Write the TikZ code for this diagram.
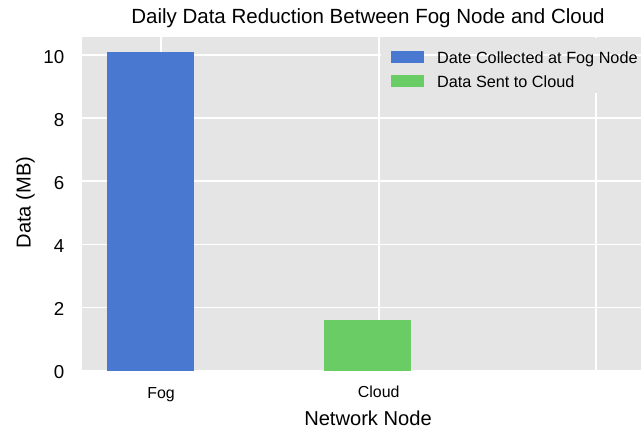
\documentclass[tikz,border=0pt]{standalone}
\usepackage{fontspec}
\setmainfont{Liberation Sans}
\definecolor{panelbg}{HTML}{E5E5E5}
\definecolor{barblue}{HTML}{4878CF}
\definecolor{bargreen}{HTML}{6ACC65}
\tikzset{
  grid line/.style={white, line width=1.6bp},
  ytick/.style={anchor=base east, inner sep=0pt, font=\fontsize{18.8}{20}\selectfont},
  xtick/.style={anchor=base, inner sep=0pt, font=\fontsize{16}{18}\selectfont},
  axis label/.style={anchor=base, inner sep=0pt, font=\fontsize{20.2}{24}\selectfont},
  title text/.style={anchor=base, inner sep=0pt, font=\fontsize{20.6}{24}\selectfont},
  legend text/.style={anchor=base west, inner sep=0pt, font=\fontsize{16.3}{18}\selectfont},
}
\begin{document}
\begin{tikzpicture}[x=1bp, y=-1bp]
  \useasboundingbox (0,0) rectangle (641,429);
  % plotting panel
  \fill[panelbg] (82,37) rectangle (641,370.5);
  % horizontal grid every 2 MB (31.55 units per MB, zero at 370.5)
  \foreach \k in {0,2,...,10}
    \draw[grid line] (82,{370.5-31.55*\k}) -- (641,{370.5-31.55*\k});
  % vertical grid at the category positions
  \foreach \gx in {161,378.7,596}
    \draw[grid line] (\gx,37) -- (\gx,370.5);
  % bars
  \fill[barblue] (107,370.5) rectangle (194,52);
  \fill[bargreen] (324,370.5) rectangle (411,320);
  % legend box, same colour as the panel
  \fill[panelbg] (380.5,38) rectangle (641,93);
  \draw[grid line] (424,55) -- (641,55);
  \fill[barblue] (391,51) rectangle (424,62.7);
  \fill[bargreen] (391,75) rectangle (424,87);
  \node[legend text] (leg1) at (437,63.3) {Date Collected at Fog Node};
  \node[legend text] (leg2) at (437,87.3) {Data Sent to Cloud};
  % y tick labels
  \foreach \k in {0,2,...,10}
    \node[ytick] (yt\k) at (64.5,{370.5-31.55*\k+8.4}) {\k};
  % x tick labels
  \node[xtick] (xfog) at (161,398.3) {Fog};
  \node[xtick] (xcloud) at (378.7,397.5) {Cloud};
  % axis labels and title
  \node[axis label] (xlab) at (368,425) {Network Node};
  \node[axis label, rotate=90] (ylab) at (30.5,202.5) {Data (MB)};
  \node[title text] (title) at (368,23.3) {Daily Data Reduction Between Fog Node and Cloud};
\end{tikzpicture}
\end{document}
